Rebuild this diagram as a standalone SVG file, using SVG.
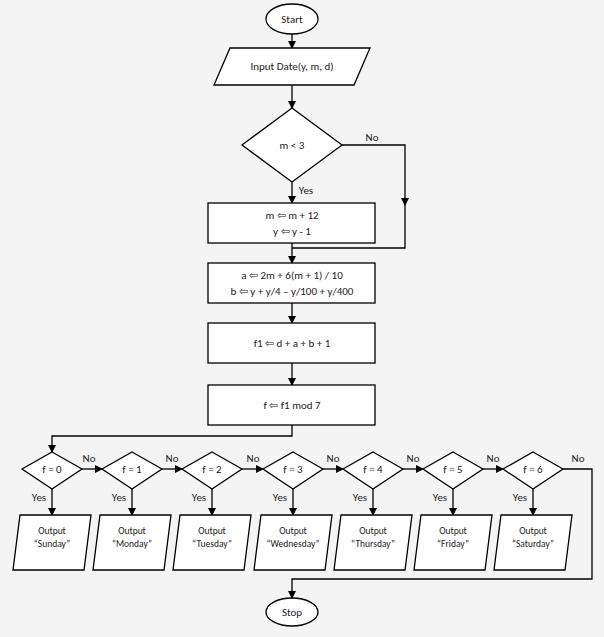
<svg xmlns="http://www.w3.org/2000/svg" width="604" height="637" viewBox="0 0 604 637">
<defs><marker id="a" markerWidth="8" markerHeight="8" refX="7" refY="4" orient="auto" markerUnits="userSpaceOnUse"><path d="M0,0L8,4L0,8z" fill="#000"/></marker></defs>
<style>
.s{fill:#fff;stroke:#000;stroke-width:1.3}
.c{fill:none;stroke:#000;stroke-width:1.3}
text{font-family:Calibri,"Liberation Sans",sans-serif;font-size:11px;fill:#222;text-anchor:middle}
.sm{font-size:9.5px}
.l{text-anchor:start}
</style>
<rect width="604" height="637" fill="#f4f4f4"/>
<g id="connectors">
<path class="c" marker-end="url(#a)" d="M292,34V48"/>
<path class="c" marker-end="url(#a)" d="M292,85V108"/>
<path class="c" marker-end="url(#a)" d="M292,182V203"/>
<path class="c" marker-end="url(#a)" d="M342,145H405V205"/>
<path class="c" d="M405,200V248H292"/>
<path class="c" marker-end="url(#a)" d="M292,243V263"/>
<path class="c" marker-end="url(#a)" d="M292,303V323"/>
<path class="c" marker-end="url(#a)" d="M292,363V385"/>
<path class="c" marker-end="url(#a)" d="M292,425V436H52V452"/>
<path class="c" marker-end="url(#a)" d="M82,469H102"/>
<path class="c" marker-end="url(#a)" d="M162,469H182"/>
<path class="c" marker-end="url(#a)" d="M242,469H263"/>
<path class="c" marker-end="url(#a)" d="M323,469H343"/>
<path class="c" marker-end="url(#a)" d="M403,469H423"/>
<path class="c" marker-end="url(#a)" d="M483,469H503"/>
<path class="c" marker-end="url(#a)" d="M563,469H592V579H292V598"/>
<path class="c" marker-end="url(#a)" d="M52,489V515"/>
<path class="c" marker-end="url(#a)" d="M132,489V515"/>
<path class="c" marker-end="url(#a)" d="M212,489V515"/>
<path class="c" marker-end="url(#a)" d="M293,489V515"/>
<path class="c" marker-end="url(#a)" d="M373,489V515"/>
<path class="c" marker-end="url(#a)" d="M453,489V515"/>
<path class="c" marker-end="url(#a)" d="M533,489V515"/>
<text x="372" y="141">No</text><text x="306" y="194">Yes</text>
<text x="89" y="462">No</text><text x="172" y="462">No</text><text x="253" y="462">No</text><text x="333" y="462">No</text><text x="413" y="462">No</text><text x="493" y="462">No</text><text x="578" y="462">No</text>
<text x="39" y="501">Yes</text><text x="119" y="501">Yes</text><text x="199" y="501">Yes</text><text x="280" y="501">Yes</text><text x="360" y="501">Yes</text><text x="440" y="501">Yes</text><text x="520" y="501">Yes</text>
</g>
<g id="start"><ellipse class="s" cx="292" cy="19" rx="26" ry="15"/><text x="292" y="23">Start</text></g>
<g id="input"><path class="s" d="M230,48H370L354,85H214z"/><text x="292" y="70">Input Date(y, m, d)</text></g>
<g id="cond"><path class="s" d="M292,108L342,145L292,182L242,145z"/><text x="292" y="149">m &lt; 3</text></g>
<g id="adj"><rect class="s" x="208" y="203" width="167" height="40"/><text x="292" y="219">m ⇦ m + 12</text><text x="292" y="235">y  ⇦ y - 1</text></g>
<g id="ab"><rect class="s" x="208" y="263" width="167" height="40"/><text x="292" y="279">a ⇦ 2m + 6(m + 1) / 10</text><text x="292" y="295">b  ⇦ y + y/4 – y/100 + y/400</text></g>
<g id="f1"><rect class="s" x="208" y="323" width="167" height="40"/><text x="292" y="347">f1 ⇦ d + a + b + 1</text></g>
<g id="f"><rect class="s" x="208" y="385" width="167" height="40"/><text x="292" y="409">f ⇦ f1 mod 7</text></g>
<g id="d0"><path class="s" d="M52,452L82,469L52,489L22,469z"/><text x="52" y="473">f = 0</text></g>
<g id="d1"><path class="s" d="M132,452L162,469L132,489L102,469z"/><text x="132" y="473">f = 1</text></g>
<g id="d2"><path class="s" d="M212,452L242,469L212,489L182,469z"/><text x="212" y="473">f = 2</text></g>
<g id="d3"><path class="s" d="M293,452L323,469L293,489L263,469z"/><text x="293" y="473">f = 3</text></g>
<g id="d4"><path class="s" d="M373,452L403,469L373,489L343,469z"/><text x="373" y="473">f = 4</text></g>
<g id="d5"><path class="s" d="M453,452L483,469L453,489L423,469z"/><text x="453" y="473">f = 5</text></g>
<g id="d6"><path class="s" d="M533,452L563,469L533,489L503,469z"/><text x="533" y="473">f = 6</text></g>
<g id="o0"><path class="s" d="M20,515H91L84,570H13z"/><text class="sm" x="52" y="534">Output</text><text class="sm" x="52" y="547">“Sunday”</text></g>
<g id="o1"><path class="s" d="M100,515H171L164,570H93z"/><text class="sm" x="132" y="534">Output</text><text class="sm" x="132" y="547">“Monday”</text></g>
<g id="o2"><path class="s" d="M180,515H251L244,570H173z"/><text class="sm" x="212" y="534">Output</text><text class="sm" x="212" y="547">“Tuesday”</text></g>
<g id="o3"><path class="s" d="M261,515H332L325,570H254z"/><text class="sm" x="293" y="534">Output</text><text class="sm" x="293" y="547">“Wednesday”</text></g>
<g id="o4"><path class="s" d="M341,515H412L405,570H334z"/><text class="sm" x="373" y="534">Output</text><text class="sm" x="373" y="547">“Thursday”</text></g>
<g id="o5"><path class="s" d="M421,515H492L485,570H414z"/><text class="sm" x="453" y="534">Output</text><text class="sm" x="453" y="547">“Friday”</text></g>
<g id="o6"><path class="s" d="M501,515H572L565,570H494z"/><text class="sm" x="533" y="534">Output</text><text class="sm" x="533" y="547">“Saturday”</text></g>
<g id="stop"><ellipse class="s" cx="292" cy="612" rx="26" ry="14"/><text x="292" y="616">Stop</text></g>
</svg>
